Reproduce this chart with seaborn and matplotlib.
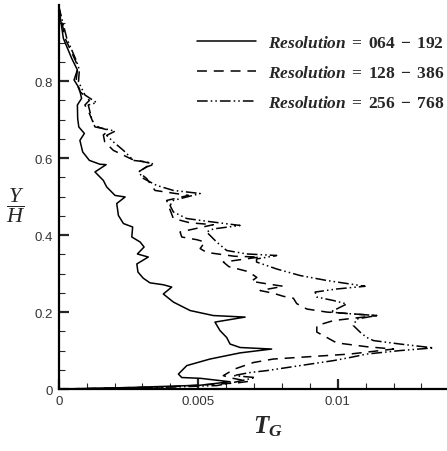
import matplotlib
matplotlib.use("Agg")
import matplotlib.pyplot as plt
import seaborn as sns
from matplotlib.ticker import MultipleLocator, FuncFormatter

# Data (T_G, Y/H)
tg_064 = [0, 0.000167, 0.000466, 0.00067, 0.00055, 0.00074, 0.00082, 0.00067, 0.00068, 0.00072,
          0.00092, 0.00076, 0.00086, 0.0011, 0.00148, 0.0017, 0.0013, 0.0016, 0.00172, 0.00202,
          0.00238, 0.00208, 0.00214, 0.00232, 0.00265, 0.00262, 0.00292, 0.00306, 0.00282, 0.00321,
          0.0028, 0.00284, 0.00303, 0.00327, 0.00375, 0.00405, 0.00375, 0.00411, 0.00471, 0.00554,
          0.00668, 0.0056, 0.00578, 0.00602, 0.00614, 0.0065, 0.00763, 0.0065, 0.00542, 0.00459,
          0.00429, 0.00441, 0.00507, 0.00614, 0.00507, 0.0025, 0]
yh_064 = [0.993, 0.911, 0.859, 0.829, 0.803, 0.781, 0.755, 0.738, 0.703, 0.681,
          0.664, 0.646, 0.616, 0.594, 0.584, 0.583, 0.564, 0.542, 0.525, 0.503,
          0.499, 0.482, 0.451, 0.43, 0.421, 0.395, 0.382, 0.369, 0.351, 0.343,
          0.325, 0.304, 0.288, 0.276, 0.271, 0.265, 0.247, 0.226, 0.204, 0.191,
          0.187, 0.174, 0.152, 0.134, 0.117, 0.108, 0.104, 0.094, 0.078, 0.061,
          0.039, 0.030, 0.028, 0.019, 0.010, 0.004, 0]

tg_128 = [0, 0.00023, 0.00062, 0.00067, 0.00062, 0.00076, 0.00098, 0.0011, 0.00094, 0.0011,
          0.00127, 0.00148, 0.0018, 0.0016, 0.00165, 0.00196, 0.00262, 0.00333, 0.00286, 0.00315,
          0.00345, 0.00465, 0.00387, 0.00393, 0.00411, 0.0047, 0.00554, 0.00435, 0.00441, 0.00495,
          0.00524, 0.00507, 0.0053, 0.0063, 0.0072, 0.0059, 0.0061, 0.0068, 0.0071, 0.0069,
          0.0075, 0.00805, 0.00722, 0.00769, 0.00805, 0.00841, 0.00853, 0.00889, 0.00961, 0.0114,
          0.00985, 0.00925, 0.00925, 0.00961, 0.00996, 0.01104, 0.012, 0.01044, 0.00769, 0.00698,
          0.0063, 0.0059, 0.0061, 0.0068, 0.0064, 0.004, 0]
yh_128 = [0.995, 0.911, 0.85, 0.829, 0.798, 0.773, 0.758, 0.75, 0.738, 0.716,
          0.686, 0.679, 0.672, 0.66, 0.642, 0.62, 0.597, 0.586, 0.564, 0.547,
          0.516, 0.503, 0.49, 0.477, 0.443, 0.432, 0.427, 0.408, 0.395, 0.388,
          0.382, 0.365, 0.355, 0.345, 0.343, 0.33, 0.318, 0.305, 0.29, 0.28,
          0.273, 0.267, 0.256, 0.249, 0.241, 0.236, 0.222, 0.208, 0.2, 0.191,
          0.178, 0.165, 0.148, 0.134, 0.12, 0.11, 0.104, 0.091, 0.078, 0.069,
          0.052, 0.035, 0.03, 0.02, 0.016, 0.006, 0]

tg_256 = [0, 0.00029, 0.00065, 0.00074, 0.00071, 0.00094, 0.00136, 0.00106, 0.00118, 0.0013,
          0.00172, 0.00202, 0.00172, 0.00196, 0.00232, 0.00268, 0.00315, 0.00342, 0.00315, 0.00286,
          0.00304, 0.00351, 0.00411, 0.00507, 0.00459, 0.00411, 0.00399, 0.00411, 0.00459, 0.0053,
          0.0065, 0.00554, 0.0053, 0.00566, 0.00602, 0.00674, 0.00781, 0.00709, 0.00709, 0.00781,
          0.00865, 0.00961, 0.01044, 0.01098, 0.00996, 0.00919, 0.00925, 0.00985, 0.01032, 0.00996,
          0.00973, 0.01056, 0.0114, 0.01068, 0.01056, 0.0108, 0.01104, 0.01128, 0.01223, 0.01343,
          0.01223, 0.01104, 0.01044, 0.00985, 0.00865, 0.00746, 0.00686, 0.00626, 0.00704, 0.00626,
          0.00566, 0.003, 0]
yh_256 = [0.995, 0.911, 0.85, 0.829, 0.798, 0.764, 0.744, 0.738, 0.703, 0.681,
          0.675, 0.67, 0.659, 0.642, 0.62, 0.594, 0.59, 0.584, 0.577, 0.564,
          0.547, 0.529, 0.516, 0.508, 0.499, 0.49, 0.477, 0.46, 0.443, 0.436,
          0.425, 0.416, 0.408, 0.382, 0.36, 0.351, 0.347, 0.338, 0.33, 0.312,
          0.295, 0.282, 0.273, 0.267, 0.26, 0.252, 0.239, 0.23, 0.221, 0.208,
          0.2, 0.195, 0.191, 0.182, 0.165, 0.148, 0.134, 0.126, 0.117, 0.107,
          0.1, 0.091, 0.082, 0.074, 0.061, 0.048, 0.043, 0.035, 0.03, 0.017,
          0.009, 0.003, 0]

labels = [r"$Resolution\;=\;064\;-\;192$",
          r"$Resolution\;=\;128\;-\;386$",
          r"$Resolution\;=\;256\;-\;768$"]

sns.set_style("white")
plt.rcParams["font.family"] = ["Liberation Sans", "DejaVu Sans"]
plt.rcParams["mathtext.fontset"] = "custom"
plt.rcParams["mathtext.it"] = "Liberation Serif:italic:bold"
plt.rcParams["mathtext.rm"] = "Liberation Serif:bold"
plt.rcParams["mathtext.bf"] = "Liberation Serif:bold"
plt.rcParams["mathtext.sf"] = "Liberation Serif:italic"

fig = plt.figure(figsize=(4.47, 4.52), dpi=100)
ax = fig.add_axes([0.1313, 0.137, 0.874, 0.850])

line_kw = dict(sort=False, estimator=None, ax=ax, color="black", linewidth=1.1,
               solid_joinstyle="round", dash_joinstyle="round")
sns.lineplot(x=tg_064, y=yh_064, linestyle="-", label=labels[0], **line_kw)
sns.lineplot(x=tg_128, y=yh_128, linestyle=(0, (6.5, 4.5)), label=labels[1], **line_kw)
sns.lineplot(x=tg_256, y=yh_256, linestyle=(0, (7, 2, 1, 2, 1, 2)), label=labels[2], **line_kw)

ax.set_xlim(0, 0.014)
ax.set_ylim(0, 0.998)
ax.xaxis.set_major_locator(MultipleLocator(0.005))
ax.xaxis.set_minor_locator(MultipleLocator(0.001))
ax.yaxis.set_major_locator(MultipleLocator(0.2))
ax.yaxis.set_minor_locator(MultipleLocator(0.05))
fmt = FuncFormatter(lambda v, p: f"{v:g}")
ax.xaxis.set_major_formatter(fmt)
ax.yaxis.set_major_formatter(fmt)
ax.tick_params(which="major", direction="in", length=7, width=1.6, labelsize=9.5,
               labelcolor="#333333", pad=4)
ax.tick_params(which="minor", direction="in", length=4, width=0.8)
ax.tick_params(axis="both", which="both", bottom=True, left=True, top=False, right=False)
for side in ["top", "right"]:
    ax.spines[side].set_visible(False)
for side in ["left", "bottom"]:
    ax.spines[side].set_linewidth(1.6)
    ax.spines[side].set_color("black")

ax.set_xlabel("")
ax.set_ylabel("")
fig.text(0.600, 0.055, r"$T_G$", fontsize=18, ha="center", va="center")
fig.text(0.035, 0.545, r"$\dfrac{\mathsf{Y}}{\mathsf{H}}$", fontsize=16, ha="center", va="center")

ax.legend(loc="upper right", bbox_to_anchor=(0.995, 0.922), bbox_transform=fig.transFigure,
          frameon=False, fontsize=12.5, handlelength=3.4, handletextpad=0.7,
          labelspacing=0.8, borderaxespad=0, borderpad=0)

fig.savefig("out.png", dpi=100)
